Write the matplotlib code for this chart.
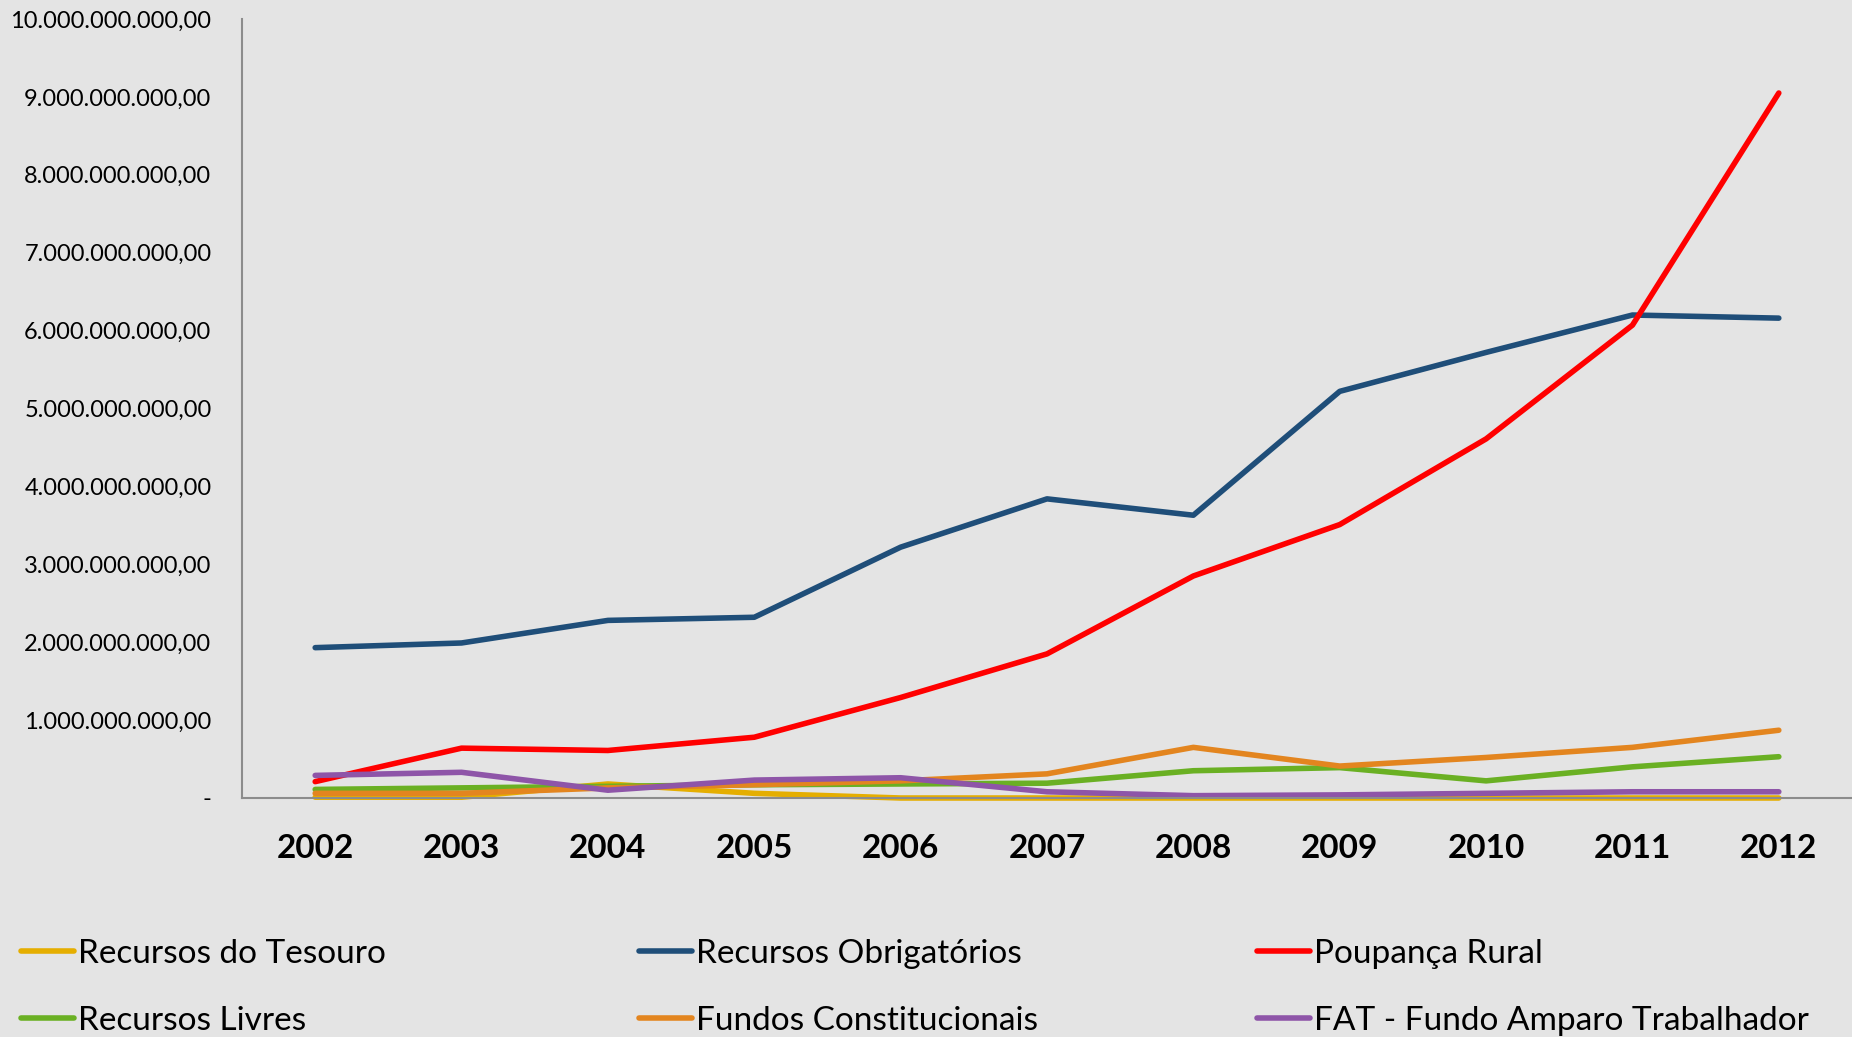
import matplotlib.pyplot as plt
from matplotlib.ticker import FuncFormatter

# Data (R$)
years = [2002, 2003, 2004, 2005, 2006, 2007, 2008, 2009, 2010, 2011, 2012]
tesouro = [0.01e9, 0.01e9, 0.18e9, 0.06e9, 0.0, 0.0, 0.0, 0.0, 0.0, 0.0, 0.0]
obrigatorios = [1.93e9, 1.99e9, 2.28e9, 2.32e9, 3.22e9, 3.84e9, 3.63e9, 5.22e9, 5.72e9, 6.20e9, 6.16e9]
poupanca = [0.21e9, 0.64e9, 0.61e9, 0.78e9, 1.29e9, 1.85e9, 2.85e9, 3.51e9, 4.61e9, 6.07e9, 9.05e9]
livres = [0.11e9, 0.13e9, 0.15e9, 0.17e9, 0.18e9, 0.19e9, 0.35e9, 0.39e9, 0.22e9, 0.40e9, 0.53e9]
fundos = [0.06e9, 0.06e9, 0.13e9, 0.17e9, 0.22e9, 0.31e9, 0.65e9, 0.41e9, 0.52e9, 0.65e9, 0.87e9]
fat = [0.29e9, 0.33e9, 0.10e9, 0.23e9, 0.26e9, 0.08e9, 0.03e9, 0.04e9, 0.06e9, 0.08e9, 0.08e9]

labels = ['Recursos do Tesouro', 'Recursos Obrigatórios', 'Poupança Rural',
          'Recursos Livres', 'Fundos Constitucionais', 'FAT - Fundo Amparo Trabalhador']
colors = ['#E5AE00', '#1F4E79', '#FF0000', '#6AB023', '#E3851F', '#8E55A8']
series = [tesouro, obrigatorios, poupanca, livres, fundos, fat]

plt.rcParams['font.family'] = ['Lato', 'DejaVu Sans']
bg = '#e4e4e4'

fig = plt.figure(figsize=(18.52, 10.37), dpi=100, facecolor=bg)
ax = fig.add_axes([242 / 1852, 1 - 798 / 1037, 1 - 242 / 1852, (798 - 19) / 1037])
ax.set_facecolor(bg)

handles = []
for vals, lab, c in zip(series, labels, colors):
    h, = ax.plot(years, vals, color=c, lw=4, label=lab, clip_on=False,
                 solid_capstyle='round', solid_joinstyle='round')
    handles.append(h)

ax.set_xlim(2001.5, 2012.5)
ax.set_ylim(0, 10e9)
ax.set_xticks(years)
ax.set_yticks([i * 1e9 for i in range(11)])


def fmt(v, pos):
    if v == 0:
        return '-'
    return '{:,.2f}'.format(v).replace(',', 'X').replace('.', ',').replace('X', '.')


ax.yaxis.set_major_formatter(FuncFormatter(fmt))
ax.tick_params(axis='y', length=0, pad=22, labelsize=17)
ax.tick_params(axis='x', length=0, pad=26, labelsize=24)
for t in ax.get_xticklabels():
    t.set_fontweight('bold')
for s in ['top', 'right']:
    ax.spines[s].set_visible(False)
for s in ['left', 'bottom']:
    ax.spines[s].set_color('#8c8c8c')
    ax.spines[s].set_linewidth(1.5)

# Legend: three columns, two rows each
col_x = [21 / 1852, 639 / 1852, 1257 / 1852]
for i in range(3):
    hs = [handles[i], handles[i + 3]]
    fig.legend(hs, [h.get_label() for h in hs], loc='upper left',
               bbox_to_anchor=(col_x[i], 1 - 939 / 1037), frameon=False,
               fontsize=24, handlelength=1.6, handletextpad=0.12,
               borderpad=0, borderaxespad=0, labelspacing=1.1)

fig.savefig('out.png', dpi=100, facecolor=bg)
